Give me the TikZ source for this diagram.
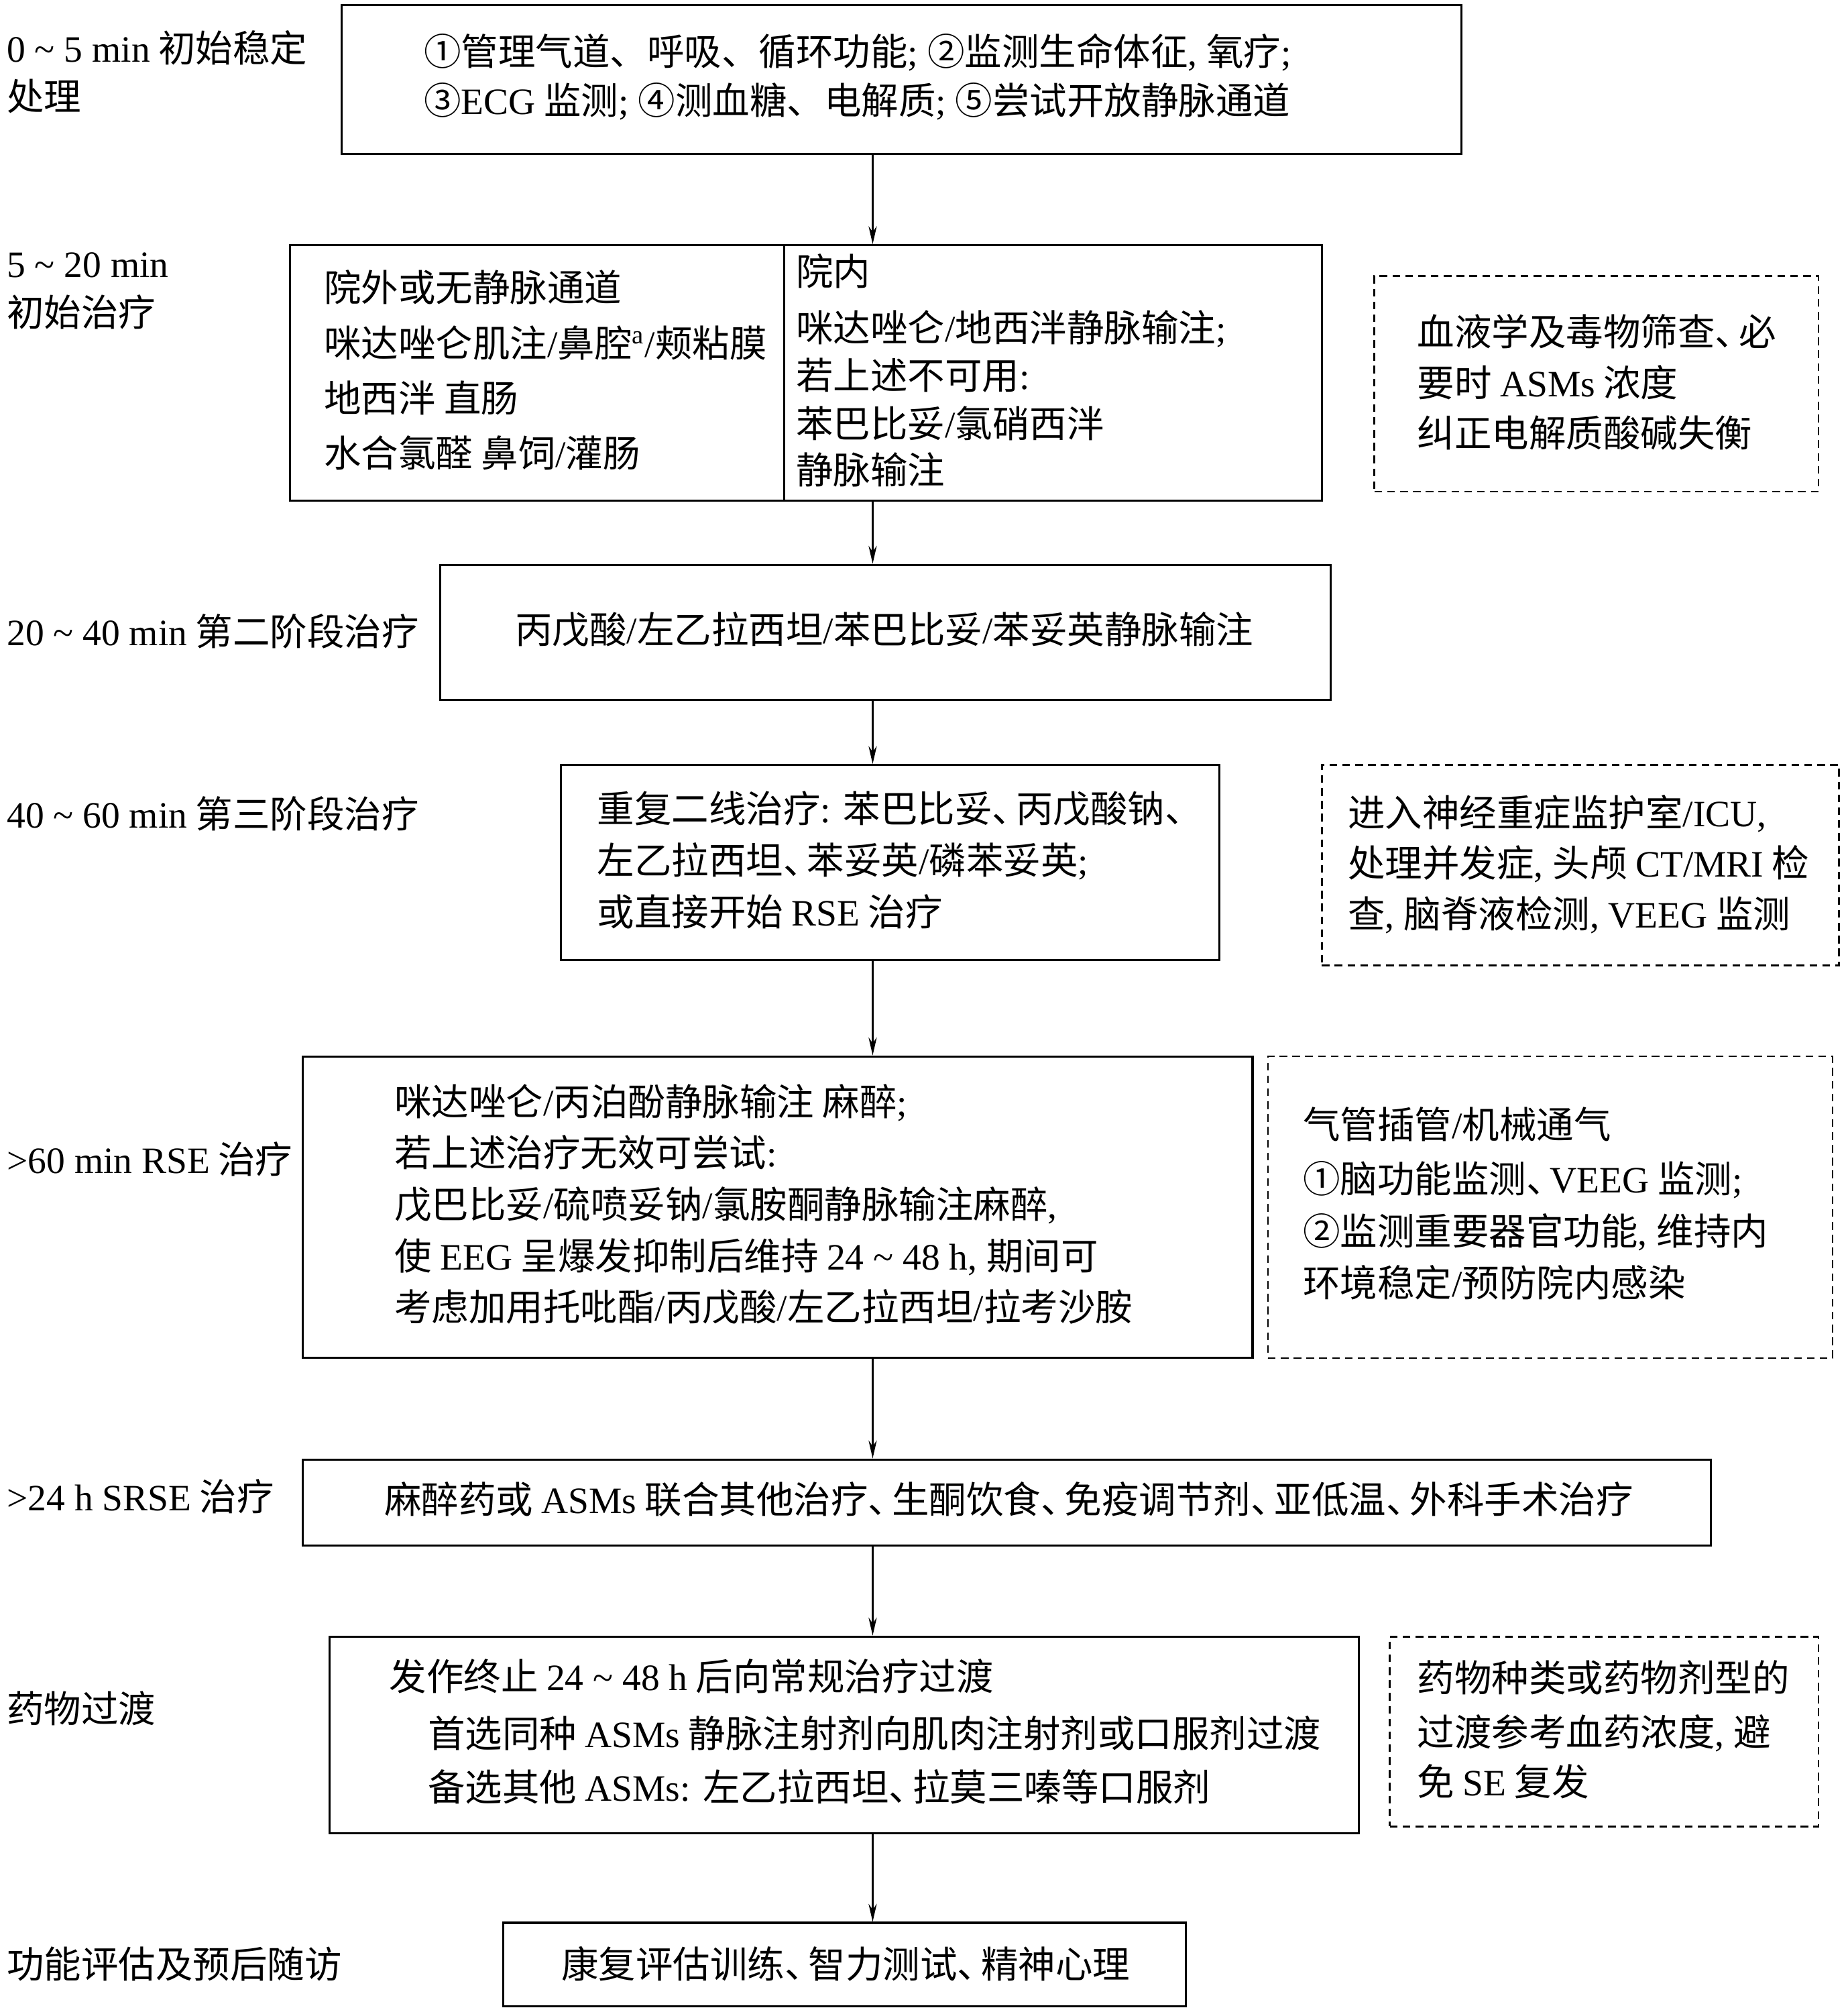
\documentclass[tikz,border=0pt]{standalone}
\usepackage{fontspec}
\setmainfont{Noto Sans CJK SC}
\newfontfamily\enfont{Liberation Serif}
\newcommand\en[1]{{\enfont #1}}
\newcommand\tl{\textasciitilde}
\newcommand\dn{\makebox[0.64em][l]{、}}
\usetikzlibrary{arrows.meta,fit}
\begin{document}
\begin{tikzpicture}[x=0.5pt,y=-0.5pt,
  box/.style={draw, line width=0.8pt, inner sep=0pt},
  dbox/.style={draw, line width=0.7pt, dash pattern=on 3pt off 2pt, inner sep=0pt},
  txt/.style={anchor=west, inner sep=0pt, font=\fontsize{14.5}{17}\selectfont, text height=12.8pt, text depth=1.7pt},
  arr/.style={-{Stealth[length=7pt,width=3.2pt]}, line width=0.6pt}]
\fill[white] (0,0) rectangle (1440,1567.5);
\useasboundingbox (0,0) rectangle (1440,1567.5);
\coordinate (ax) at (680,0);
\coordinate (dv) at (611,0);

% left labels
\node[txt] (l1a) at (5,37) {\en{0 \tl{} 5 min} 初始稳定};
\node[txt] (l1b) at (5,75) {处理};
\node[txt] (l2a) at (5,205) {\en{5 \tl{} 20 min}};
\node[txt] (l2b) at (5,243) {初始治疗};
\node[txt] (l3) at (5,492) {\en{20 \tl{} 40 min} 第二阶段治疗};
\node[txt] (l4) at (5,634) {\en{40 \tl{} 60 min} 第三阶段治疗};
\node[txt] (l5) at (5,903) {\en{>60 min RSE} 治疗};
\node[txt] (l6) at (5,1166) {\en{>24 h SRSE} 治疗};
\node[txt] (l7) at (5,1331) {药物过渡};
\node[txt] (l8) at (5,1530) {功能评估及预后随访};

% box 1
\node[box, fit={(266,4) (1139,120)}] (b1) {};
\node[txt] (t1a) at (330,40) {①管理气道、呼吸、循环功能\en{; }②监测生命体征\en{, }氧疗\en{;}};
\node[txt] (t1b) at (330,78) {③\en{ECG} 监测\en{; }④测血糖、电解质\en{; }⑤尝试开放静脉通道};

% box 2
\node[box, fit={(226,191) (1030,390)}] (b2) {};
\draw[line width=0.6pt] (b2.north -| dv) -- (b2.south -| dv);
\node[txt] (t2a) at (252,224) {院外或无静脉通道};
\node[txt] (t2b) at (252,267) {咪达唑仑肌注\en{/}鼻腔\textsuperscript{\en{a}}\en{/}颊粘膜};
\node[txt] (t2c) at (252,310) {地西泮 直肠};
\node[txt] (t2d) at (252,353) {水合氯醛 鼻饲\en{/}灌肠};
\node[txt] (t2e) at (620,211) {院内};
\node[txt] (t2f) at (620,255) {咪达唑仑\en{/}地西泮静脉输注\en{;}};
\node[txt] (t2g) at (620,292) {若上述不可用\en{:}};
\node[txt] (t2h) at (620,330) {苯巴比妥\en{/}氯硝西泮};
\node[txt] (t2i) at (620,366) {静脉输注};

% dashed A
\node[dbox, fit={(1071,215) (1417,383)}] (da) {};
\node[txt] (tda) at (1104,258) {血液学及毒物筛查\dn 必};
\node[txt] (tdb) at (1104,298) {要时 \en{ASMs} 浓度};
\node[txt] (tdc) at (1104,337) {纠正电解质酸碱失衡};

% box 3
\node[box, fit={(343,440) (1037,545)}] (b3) {};
\node[txt] (t3) at (401,490) {丙戊酸\en{/}左乙拉西坦\en{/}苯巴比妥\en{/}苯妥英静脉输注};

% box 4
\node[box, fit={(437,596) (950,748)}] (b4) {};
\node[txt] (t4a) at (465,630) {重复二线治疗\en{: }苯巴比妥\dn 丙戊酸钠\dn};
\node[txt] (t4b) at (465,670) {左乙拉西坦\dn 苯妥英\en{/}磷苯妥英\en{;}};
\node[txt] (t4c) at (465,710) {或直接开始 \en{RSE} 治疗};

% dashed B
\node[dbox, fit={(1030,596) (1433,752)}] (db) {};
\node[txt] (tdd) at (1050,633) {进入神经重症监护室\en{/ICU,}};
\node[txt] (tde) at (1050,672) {处理并发症\en{, }头颅 \en{CT/MRI} 检};
\node[txt] (tdf) at (1050,712) {查\en{, }脑脊液检测\en{, VEEG} 监测};

% box 5
\node[box, fit={(236,823) (976,1058)}] (b5) {};
\node[txt] (t5a) at (307,858) {咪达唑仑\en{/}丙泊酚静脉输注 麻醉\en{;}};
\node[txt] (t5b) at (307,898) {若上述治疗无效可尝试\en{:}};
\node[txt] (t5c) at (307,938) {戊巴比妥\en{/}硫喷妥钠\en{/}氯胺酮静脉输注麻醉\en{,}};
\node[txt] (t5d) at (307,978) {使 \en{EEG} 呈爆发抑制后维持 \en{24 \tl{} 48 h, }期间可};
\node[txt] (t5e) at (307,1018) {考虑加用托吡酯\en{/}丙戊酸\en{/}左乙拉西坦\en{/}拉考沙胺};

% dashed C
\node[dbox, fit={(988,823) (1428,1058)}] (dc) {};
\node[txt] (tdg) at (1015,876) {气管插管\en{/}机械通气};
\node[txt] (tdh) at (1015,918) {①脑功能监测\dn\en{VEEG} 监测\en{;}};
\node[txt] (tdi) at (1015,959) {②监测重要器官功能\en{, }维持内};
\node[txt] (tdj) at (1015,999) {环境稳定\en{/}预防院内感染};

% box 6
\node[box, fit={(236,1137) (1333,1204)}] (b6) {};
\node[txt] (t6) at (299,1168) {麻醉药或 \en{ASMs} 联合其他治疗\dn 生酮饮食\dn 免疫调节剂\dn 亚低温\dn 外科手术治疗};

% box 7
\node[box, fit={(257,1275) (1059,1428)}] (b7) {};
\node[txt] (t7a) at (303,1306) {发作终止 \en{24 \tl{} 48 h} 后向常规治疗过渡};
\node[txt] (t7b) at (333,1350) {首选同种 \en{ASMs} 静脉注射剂向肌肉注射剂或口服剂过渡};
\node[txt] (t7c) at (333,1392) {备选其他 \en{ASMs: }左乙拉西坦\dn 拉莫三嗪等口服剂};

% dashed D
\node[dbox, fit={(1083,1275) (1417,1423)}] (dd) {};
\node[txt] (tdk) at (1104,1307) {药物种类或药物剂型的};
\node[txt] (tdl) at (1104,1349) {过渡参考血药浓度\en{, }避};
\node[txt] (tdm) at (1104,1388) {免 \en{SE} 复发};

% box 8
\node[box, fit={(392,1498) (924,1563)}] (b8) {};
\node[txt] (t8) at (437,1530) {康复评估训练\dn 智力测试\dn 精神心理};

% arrows
\draw[arr] (b1.south -| ax) -- (b2.north -| ax);
\draw[arr] (b2.south -| ax) -- (b3.north -| ax);
\draw[arr] (b3.south -| ax) -- (b4.north -| ax);
\draw[arr] (b4.south -| ax) -- (b5.north -| ax);
\draw[arr] (b5.south -| ax) -- (b6.north -| ax);
\draw[arr] (b6.south -| ax) -- (b7.north -| ax);
\draw[arr] (b7.south -| ax) -- (b8.north -| ax);
\end{tikzpicture}
\end{document}
